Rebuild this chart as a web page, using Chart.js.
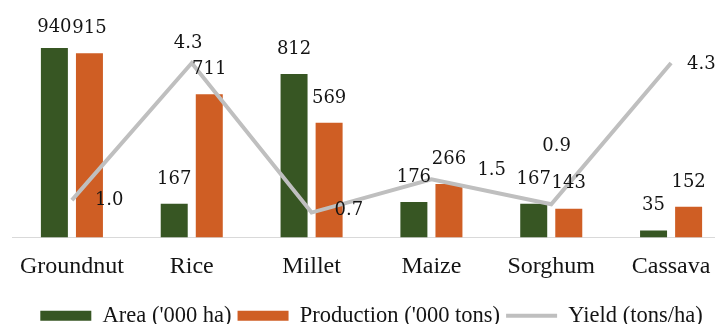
<!DOCTYPE html>
<html>
<head>
<meta charset="utf-8">
<script src="https://cdn.jsdelivr.net/npm/chart.js@4.4.1/dist/chart.umd.min.js"></script>
<style>
  html, body { margin: 0; padding: 0; background: #fff; overflow: hidden; }
  #wrap { width: 760px; height: 337px; position: relative; }
</style>
</head>
<body>
<div id="wrap"><canvas id="cropChart"></canvas></div>
<script>
const crops = ['Groundnut', 'Rice', 'Millet', 'Maize', 'Sorghum', 'Cassava'];
const areaHa = [940, 167, 812, 176, 167, 35];
const productionTons = [915, 711, 569, 266, 143, 152];
const yieldTonsHa = [1.0, 4.3, 0.7, 1.5, 0.9, 4.3];

// where each yield label sits relative to its point (left edge, vertical shift)
const yieldLabelShift = [[23, 0], [-18, -20], [23, -2], [46, -9], [-9, -58], [16, 1]];

const serif = '"DejaVu Serif", serif';
const timesLike = '"Liberation Serif", "Times New Roman", serif';

// value labels over bars and beside the yield line
const valueLabels = {
  id: 'valueLabels',
  afterDatasetsDraw(chart) {
    const ctx = chart.ctx;
    ctx.save();
    ctx.font = '18px ' + serif;
    ctx.fillStyle = '#141414';
    ctx.textBaseline = 'middle';
    chart.data.datasets.forEach((ds, i) => {
      const meta = chart.getDatasetMeta(i);
      meta.data.forEach((el, j) => {
        const txt = ds.type === 'line' ? ds.data[j].toFixed(1) : String(ds.data[j]);
        if (ds.type === 'line') {
          const s = yieldLabelShift[j];
          ctx.textAlign = 'left';
          ctx.fillText(txt, el.x + s[0], el.y + s[1]);
        } else {
          ctx.textAlign = 'center';
          ctx.fillText(txt, el.x, Math.max(el.y - 25, 27));
        }
      });
    });
    ctx.restore();
  }
};

new Chart(document.getElementById('cropChart'), {
  data: {
    labels: crops,
    datasets: [
      {
        type: 'bar',
        label: "Area ('000 ha)",
        data: areaHa,
        backgroundColor: '#375623',
        yAxisID: 'y',
        order: 1,
        pointStyle: 'rect'
      },
      {
        type: 'bar',
        label: "Production ('000 tons)",
        data: productionTons,
        backgroundColor: '#cf5e24',
        yAxisID: 'y',
        order: 1,
        pointStyle: 'rect'
      },
      {
        type: 'line',
        label: 'Yield (tons/ha)',
        data: yieldTonsHa,
        borderColor: '#bfbfbf',
        backgroundColor: '#bfbfbf',
        borderWidth: 4,
        pointRadius: 0,
        tension: 0,
        yAxisID: 'y2',
        order: 0,
        pointStyle: 'line'
      }
    ]
  },
  options: {
    responsive: true,
    maintainAspectRatio: false,
    animation: false,
    layout: { padding: { top: 36, left: 12, right: 29, bottom: 0 } },
    datasets: {
      bar: { categoryPercentage: 0.585, barPercentage: 0.77 }
    },
    scales: {
      x: {
        grid: { display: false, drawTicks: false },
        border: { display: true, color: '#d9d9d9', width: 1 },
        ticks: { color: '#141414', font: { family: timesLike, size: 24 }, padding: 15 },
        afterFit(scale) { scale.height = 61; }
      },
      y: { display: false, min: 0, max: 1000 },
      y2: { display: false, min: 0.1, max: 4.95 }
    },
    plugins: {
      tooltip: { enabled: false },
      legend: {
        position: 'bottom',
        labels: {
          usePointStyle: true,
          pointStyleWidth: 51,
          boxHeight: 10,
          padding: 6,
          color: '#141414',
          font: { family: timesLike, size: 22.5 },
          sort: (a, b) => a.datasetIndex - b.datasetIndex
        }
      }
    }
  },
  plugins: [valueLabels]
});
</script>
</body>
</html>
